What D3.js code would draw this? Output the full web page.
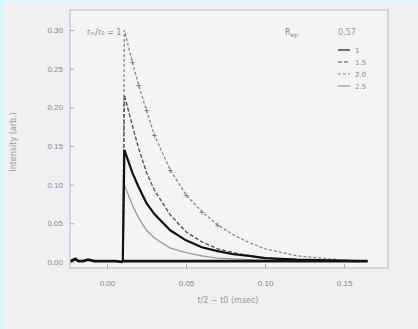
<!DOCTYPE html>
<html>
<head>
<meta charset="utf-8">
<script src="https://cdn.jsdelivr.net/npm/d3@7"></script>
<style>
  body { margin: 0; background: #d4f7f7; }
  #chart { position: absolute; left: 3px; top: 2px; }
  svg { display: block; background: #f0eff2; font-family: "DejaVu Sans", sans-serif; }
</style>
</head>
<body>
<div id="chart"></div>
<script>
// sample times (msec)
var times = [0.010, 0.011, 0.016, 0.020, 0.025, 0.030, 0.040, 0.050, 0.060, 0.070, 0.080, 0.090, 0.100, 0.120, 0.140, 0.160]

// decays
var seriesA = [0, 0.300, 0.259, 0.229, 0.196, 0.164, 0.119, 0.087, 0.065, 0.048, 0.035, 0.025, 0.017, 0.008, 0.004, 0.001]
var seriesB = [0, 0.216, 0.177, 0.147, 0.116, 0.093, 0.061, 0.039, 0.026, 0.017, 0.012, 0.008, 0.005, 0.003, 0.001, 0.001]
var seriesC = [0, 0.145, 0.116, 0.097, 0.076, 0.062, 0.041, 0.028, 0.019, 0.014, 0.010, 0.008, 0.005, 0.003, 0.002, 0.001]
var seriesD = [0, 0.100, 0.074, 0.057, 0.041, 0.031, 0.018, 0.012, 0.008, 0.005, 0.004, 0.003, 0.002, 0.001, 0.001, 0.001]

// flat part before the step
var baseTimes = [-0.023, -0.020, -0.018, -0.015, -0.012, -0.008, -0.004, 0.000, 0.005, 0.010]
var baseValues = [0.001, 0.004, 0.001, 0.001, 0.003, 0.001, 0.001, 0.001, 0.001, 0]

var xTicks = [0.00, 0.05, 0.10, 0.15]
var yTicks = [0.00, 0.05, 0.10, 0.15, 0.20, 0.25, 0.30]

var legendLabels = ["1", "1.5", "2.0", "2.5"]

var width = 415, height = 327

var svg = d3.select("#chart").append("svg")
    .attr("width", width)
    .attr("height", height)

var x = d3.scaleLinear().domain([-0.0234, 0.1778]).range([67, 385])
var y = d3.scaleLinear().domain([-0.0078, 0.326]).range([266, 8])

// frame
svg.append("rect")
    .attr("x", x.range()[0])
    .attr("y", y.range()[1])
    .attr("width", x.range()[1] - x.range()[0])
    .attr("height", y.range()[0] - y.range()[1])
    .style("fill", "#f4f4f4")
    .style("stroke", "#bcbcc4")

var xAxis = svg.append("g")
    .attr("transform", "translate(0," + y.range()[0] + ")")
    .call(d3.axisBottom(x).tickValues(xTicks).tickFormat(d3.format(".2f")).tickSize(-4).tickPadding(12))
var yAxis = svg.append("g")
    .attr("transform", "translate(" + x.range()[0] + ",0)")
    .call(d3.axisLeft(y).tickValues(yTicks).tickFormat(d3.format(".2f")).tickSize(-4).tickPadding(7))

svg.selectAll(".domain").remove()
svg.selectAll(".tick line").style("stroke", "#aaa")
svg.selectAll(".tick text").style("fill", "#888").style("font-size", "8px")

svg.append("text")
    .attr("x", 225)
    .attr("y", 301)
    .attr("text-anchor", "middle")
    .style("font-size", "8px")
    .style("fill", "#999")
    .text("t/2 − t0 (msec)")

svg.append("text")
    .attr("transform", "translate(13,140) rotate(-90)")
    .attr("text-anchor", "middle")
    .style("font-size", "8px")
    .style("fill", "#999")
    .text("Intensity (arb.)")

var line = d3.line()
    .x(function(d){ return x(d[0]) })
    .y(function(d){ return y(d[1]) })

var curves = [
  {values: seriesD, color: "#9a9a9a", width: 1.3, dash: null},
  {values: seriesA, color: "#8a8a8a", width: 1.3, dash: "3,2"},
  {values: seriesB, color: "#555", width: 1.4, dash: "4,2"},
  {values: seriesC, color: "#111", width: 2.2, dash: null}
]

curves.forEach(function(c){
  var pts = times.map(function(t, i){ return [t, c.values[i]] })
  svg.append("path")
      .datum(pts)
      .attr("class", "line")
      .attr("d", line)
      .style("fill", "none")
      .style("stroke", c.color)
      .style("stroke-width", c.width)
      .style("stroke-dasharray", c.dash)
})

// markers on the top curve
svg.selectAll("mymarks")
    .data(times.slice(2, 10))
    .enter()
    .append("text")
    .attr("x", function(d){ return x(d) })
    .attr("y", function(d){ return y(seriesA[times.indexOf(d)]) + 3 })
    .attr("text-anchor", "middle")
    .style("font-size", "8px")
    .style("fill", "#777")
    .text("+")

svg.append("path")
    .datum(baseTimes.map(function(t, i){ return [t, baseValues[i]] }))
    .attr("d", line)
    .style("fill", "none")
    .style("stroke", "#111")
    .style("stroke-width", 2.8)

svg.append("path")
    .datum([[0.010, 0.001], [0.165, 0.001]])
    .attr("d", line)
    .style("fill", "none")
    .style("stroke", "#111")
    .style("stroke-width", 2.8)

// texts at the top
svg.append("text")
    .attr("x", 84)
    .attr("y", 33)
    .style("font-size", "8px")
    .style("fill", "#888")
    .text("r\u2098/r\u2080 = 1")

svg.append("text")
    .attr("x", 282)
    .attr("y", 33)
    .style("font-size", "8px")
    .style("fill", "#888")
    .text("R")
  .append("tspan")
    .attr("dy", 2)
    .style("font-size", "6px")
    .text("ep")

svg.append("text")
    .attr("x", 335)
    .attr("y", 33)
    .style("font-size", "8px")
    .style("fill", "#999")
    .text("0.57")

// legend
var legendStyles = [curves[3], curves[2], curves[1], curves[0]]
var size = 12
legendLabels.forEach(function(d, i){
  var yy = 48 + i*12
  svg.append("line")
      .attr("x1", 335).attr("x2", 335 + size)
      .attr("y1", yy).attr("y2", yy)
      .style("stroke", legendStyles[i].color)
      .style("stroke-width", 1.2)
      .style("stroke-dasharray", legendStyles[i].dash)
  svg.append("text")
      .attr("x", 352)
      .attr("y", yy + 3)
      .style("font-size", "7px")
      .style("fill", "#888")
      .text(d)
})
</script>
</body>
</html>
